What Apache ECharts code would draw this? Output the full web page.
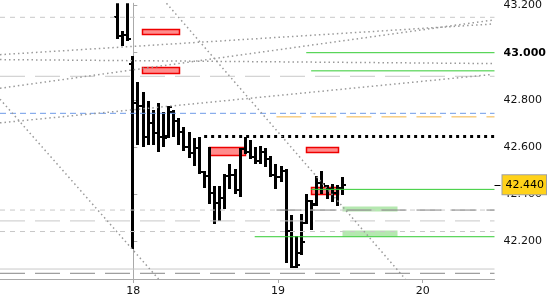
<!DOCTYPE html>
<html><head><meta charset="utf-8">
<script src="https://cdn.jsdelivr.net/npm/echarts@6/dist/echarts.min.js"></script>
<style>html,body{margin:0;padding:0;background:#fff}#c{width:550px;height:300px}</style>
</head><body><div id="c"></div>
<script>
// time in hours from day 18, 00:00
const barTimes = [-2.71,-1.86,-1.01,-0.17,0.68,1.53,2.38,3.23,4.07,4.92,5.77,6.62,7.47,8.31,9.16,10.01,10.86,11.71,12.55,13.40,14.25,15.10,15.95,16.79,17.64,18.49,19.34,20.19,21.03,21.88,22.73,23.58,24.43,25.27,26.12,26.97,27.82,28.67,29.51,30.36,31.21,32.06,32.91,33.75,34.60];
const barOpen = [43.15,43.071,43.075,42.95,42.788,42.774,42.644,42.700,42.658,42.644,42.645,42.750,42.711,42.662,42.602,42.574,42.594,42.494,42.476,42.404,42.363,42.384,42.478,42.481,42.418,42.590,42.581,42.560,42.539,42.578,42.548,42.481,42.472,42.497,42.246,42.092,42.15,42.28,42.372,42.36,42.448,42.435,42.422,42.407,42.426];
const barHigh = [43.30,43.092,43.30,42.987,42.874,42.832,42.795,42.757,42.786,42.749,42.774,42.757,42.724,42.686,42.665,42.640,42.644,42.497,42.602,42.435,42.435,42.485,42.527,42.506,42.598,42.644,42.631,42.602,42.606,42.594,42.564,42.527,42.518,42.506,42.313,42.225,42.317,42.401,42.376,42.476,42.497,42.439,42.443,42.439,42.472];
const barLow = [43.059,43.029,43.050,42.167,42.610,42.602,42.610,42.610,42.577,42.602,42.640,42.644,42.610,42.585,42.552,42.518,42.485,42.426,42.359,42.275,42.288,42.338,42.422,42.401,42.388,42.569,42.548,42.527,42.527,42.514,42.472,42.422,42.451,42.108,42.087,42.087,42.141,42.275,42.250,42.351,42.401,42.380,42.368,42.351,42.397];
const barClose = [43.071,43.075,43.059,42.788,42.774,42.644,42.700,42.658,42.644,42.640,42.770,42.711,42.662,42.602,42.574,42.594,42.494,42.476,42.404,42.363,42.384,42.478,42.481,42.418,42.590,42.581,42.560,42.539,42.578,42.548,42.481,42.472,42.497,42.246,42.092,42.10,42.196,42.372,42.355,42.448,42.443,42.422,42.407,42.426,42.440];

const dayTicks = [0, 24, 48];
const dayLabels = ['18', '19', '20'];
const priceTicks = [42.2, 42.4, 42.6, 42.8, 43.0, 43.2];
const lastPrice = 42.44;
const xMin = -22.11, xMax = 59.92, yMin = 42.0408, yMax = 43.2094;

// horizontal levels
const grayShortLevels = [43.15, 42.333, 42.242];
const grayLongLevels = [42.90, 42.287];
const graySolidLevels = [42.083];
const darkLongLevels = [42.065];
const darkLongPartial = [[42.333, 23.75]];
const blueLevels = [42.743];
const orangeLevels = [[42.728, 23.75]];
const blackDottedLevels = [[42.645, 11.75]];
const greenLevels = [[43.0, 28.69], [42.923, 29.5], [42.4207, 29.5], [42.22, 20.14]];

// zones [t1, t2, v1, v2]
const redZones = [[1.40,7.64,43.078,43.100],[1.40,7.64,42.913,42.941],[12.53,18.61,42.567,42.602],[28.6,33.9,42.578,42.599],[29.4,33.9,42.400,42.430]];
const greenZones = [[34.6,43.8,42.327,42.351],[34.6,43.8,42.221,42.250]];

// dotted trend lines [t1, v1, t2, v2]
const trendLines = [
  [-22.11,42.9916,59.59,43.1215],
  [-22.11,42.9707,59.59,42.9539],
  [-22.11,42.8492,59.59,43.1382],
  [-22.11,42.7026,59.59,42.9079],
  [5.51,43.2094,45.12,42.0408],
  [-22.11,42.8031,4.19,42.0408]
];

const series = [];
function hline(v, from, to, color, dash, z, width) {
  series.push({type:'line', data:[[from, v],[to, v]], showSymbol:false, silent:true, z:z,
    lineStyle:{color:color, width:width||1, type:dash}, clip:true, animation:false});
}
function zoneSeries(zones, fill, stroke, z) {
  series.push({type:'custom', z:z, silent:true, clip:true, animation:false,
    data: zones,
    encode:{x:[0,1], y:[2,3]},
    renderItem: function(params, api){
      const p1 = api.coord([api.value(0), api.value(3)]);
      const p2 = api.coord([api.value(1), api.value(2)]);
      const x1 = Math.round(p1[0]) + 0.5, y1 = Math.round(p1[1]) + 0.5;
      const x2 = Math.round(p2[0]) + 0.5, y2 = Math.round(p2[1]) + 0.5;
      return {type:'rect', shape:{x:x1, y:y1, width:x2-x1, height:y2-y1},
        style:{fill:fill, stroke:stroke||null, lineWidth: stroke?1.5:0}};
    }});
}
zoneSeries(redZones, '#ff8c8c', '#ee0000', 2);
zoneSeries(greenZones, '#b5e8b0', null, 2);

// OHLC bars
series.push({type:'custom', z:3, silent:true, clip:true, animation:false,
  data: barTimes.map((t,i)=>[t, barOpen[i], barHigh[i], barLow[i], barClose[i]]),
  encode:{x:0, y:[1,2,3,4]},
  renderItem: function(params, api){
    const t = api.value(0);
    const pH = api.coord([t, api.value(2)]);
    const pL = api.coord([t, api.value(3)]);
    const pO = api.coord([t, api.value(1)]);
    const pC = api.coord([t, api.value(4)]);
    const x = Math.round(pH[0]);
    const yH = Math.round(pH[1]), yL = Math.round(pL[1]);
    return {type:'group', children:[
      {type:'rect', shape:{x:x-1, y:yH, width:3, height:yL-yH}, style:{fill:'#000'}},
      {type:'rect', shape:{x:x-3, y:Math.round(pO[1])-1, width:2, height:2}, style:{fill:'#000'}},
      {type:'rect', shape:{x:x+2, y:Math.round(pC[1])-1, width:2, height:2}, style:{fill:'#000'}}
    ]};
  }});

grayShortLevels.forEach(v=>hline(v, xMin, xMax, '#c8c8c8', [5,5], 5));
grayLongLevels.forEach(v=>hline(v, xMin, xMax, '#c8c8c8', [25,10], 5));
graySolidLevels.forEach(v=>hline(v, xMin, xMax, '#c8c8c8', 'solid', 5));
darkLongLevels.forEach(v=>hline(v, xMin, xMax, '#858585', [25,10], 5));
darkLongPartial.forEach(a=>hline(a[0], a[1], xMax, '#858585', [25,10], 5));
blueLevels.forEach(v=>hline(v, xMin, xMax, '#6f9be8', [6,4], 5));
orangeLevels.forEach(a=>hline(a[0], a[1], xMax, '#f2b545', [25,10], 5));
blackDottedLevels.forEach(a=>hline(a[0], a[1], xMax, '#000', [3,4], 5, 3));
greenLevels.forEach(a=>hline(a[0], a[1], xMax, '#33cc33', 'solid', 5));
trendLines.forEach(l=>{
  series.push({type:'line', data:[[l[0],l[1]],[l[2],l[3]]], showSymbol:false, silent:true, z:6, clip:true, animation:false,
    lineStyle:{color:'#9a9a9a', width:1.5, type:[1.5,3]}});
});

const chart = echarts.init(document.getElementById('c'), null, {renderer:'canvas'});
chart.setOption({
  animation:false,
  grid:{left:0, right:51, top:0, bottom:21, containLabel:false},
  xAxis:{type:'value', min:xMin, max:xMax, splitLine:{show:false},
    axisLine:{show:true, lineStyle:{color:'#aaaaaa'}},
    axisTick:{show:true, length:4, lineStyle:{color:'#aaaaaa'}, customValues:dayTicks},
    axisLabel:{customValues:dayTicks, margin:7, color:'#111', fontFamily:'DejaVu Sans', fontSize:11,
      formatter:(v)=>dayLabels[dayTicks.indexOf(v)]}},
  yAxis:[
    {type:'value', position:'right', min:yMin, max:yMax, splitLine:{show:false},
      axisLine:{show:true, lineStyle:{color:'#aaaaaa'}},
      axisTick:{show:true, length:4, lineStyle:{color:'#aaaaaa'}, customValues:priceTicks},
      axisLabel:{customValues:priceTicks, margin:9, color:'#111', fontFamily:'DejaVu Sans', fontSize:11,
        formatter:(v)=> Math.abs(v-43)<1e-9 ? '{b|'+v.toFixed(3)+'}' : v.toFixed(3),
        rich:{b:{fontWeight:'bold', color:'#000', fontFamily:'DejaVu Sans', fontSize:11}}}},
    {type:'value', position:'right', min:yMin, max:yMax, splitLine:{show:false},
      axisLine:{show:false},
      axisTick:{show:true, length:6, lineStyle:{color:'#000'}, customValues:[lastPrice]},
      axisLabel:{customValues:[lastPrice], margin:8, color:'#000', fontFamily:'DejaVu Sans', fontSize:11,
        backgroundColor:'#ffd21a', borderColor:'#a0a0a0', borderWidth:1, padding:[4,2,4,3],
        formatter:(v)=>v.toFixed(3)}}
  ],
  series: series
});
</script></body></html>
